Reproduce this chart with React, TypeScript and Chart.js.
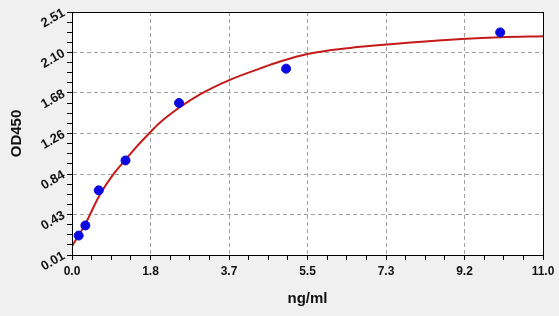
import React, { useEffect, useRef } from "react";
import { Chart, registerables } from "chart.js";

Chart.register(...registerables);

// Measured standards (ng/ml vs OD450)
const pointX = [0.156, 0.312, 0.625, 1.25, 2.5, 5, 10];
const pointY = [0.21, 0.314, 0.675, 0.983, 1.574, 1.927, 2.3];

// Fitted curve
const curveX = [0, 0.3, 0.65, 1.0, 1.25, 1.5, 1.8, 2.05, 2.5, 3.0, 3.66, 4.4, 4.86, 5.5, 6.5, 7.2, 8.0, 9.1, 10, 11];
const curveY = [0.1, 0.32, 0.63, 0.86, 0.99, 1.12, 1.26, 1.37, 1.525, 1.665, 1.807, 1.93, 2.0, 2.078, 2.14, 2.17, 2.2, 2.232, 2.25, 2.26];

// Axis tick labels
const xTickLabels = ["0.0", "1.8", "3.7", "5.5", "7.3", "9.2", "11.0"];
const yTickLabels = ["0.01", "0.43", "0.84", "1.26", "1.68", "2.10", "2.51"];

const X_MIN = 0, X_MAX = 11;
const Y_MIN = 0.01, Y_MAX = 2.51;
const MINOR = 4;

const FONT = "'Liberation Sans', Arial, sans-serif";

export default function App() {
  const ref = useRef<HTMLCanvasElement | null>(null);

  useEffect(() => {
    document.body.style.margin = "0";
    document.body.style.background = "#f0f0f0";
    const canvas = ref.current!;
    const n = xTickLabels.length - 1;

    const buildTicks = (min: number, max: number) => {
      const arr: { value: number }[] = [];
      const steps = n * MINOR;
      for (let i = 0; i <= steps; i++) arr.push({ value: min + ((max - min) * i) / steps });
      return arr;
    };

    const bgPlugin = {
      id: "bg",
      beforeDraw(chart: any) {
        const { ctx, chartArea } = chart;
        ctx.save();
        ctx.fillStyle = "#f0f0f0";
        ctx.fillRect(0, 0, chart.width, chart.height);
        ctx.fillStyle = "#ffffff";
        ctx.fillRect(chartArea.left, chartArea.top, chartArea.right - chartArea.left, chartArea.bottom - chartArea.top);
        ctx.restore();
      },
      afterDatasetsDraw(chart: any) {
        const { ctx, chartArea } = chart;
        ctx.save();
        ctx.strokeStyle = "#000";
        ctx.lineWidth = 1;
        ctx.strokeRect(
          Math.round(chartArea.left) + 0.5,
          Math.round(chartArea.top) + 0.5,
          Math.round(chartArea.right - chartArea.left),
          Math.round(chartArea.bottom - chartArea.top)
        );
        ctx.restore();
      },
    };

    const gridColor = (c: any) => {
      const idx = c.index;
      if (idx === undefined) return "rgba(0,0,0,0)";
      if (idx % MINOR !== 0) return "rgba(0,0,0,0)";
      if (idx === 0 || idx === n * MINOR) return "rgba(0,0,0,0)";
      return "#a0a0a0";
    };

    const chart = new Chart(canvas, {
      type: "scatter",
      data: {
        datasets: [
          {
            type: "line",
            label: "fit",
            data: curveX.map((x, i) => ({ x, y: curveY[i] })),
            borderColor: "#c41a1a",
            borderWidth: 2,
            pointRadius: 0,
            cubicInterpolationMode: "monotone",
            fill: false,
            order: 2,
          } as any,
          {
            label: "std",
            data: pointX.map((x, i) => ({ x, y: pointY[i] })),
            backgroundColor: "#0a0ae0",
            borderColor: "#0a0ae0",
            pointRadius: 4.5,
            order: 1,
          },
        ],
      },
      options: {
        animation: false,
        responsive: false,
        devicePixelRatio: 1,
        layout: { padding: { top: 12, right: 16, left: 0, bottom: 0 } },
        plugins: { legend: { display: false }, tooltip: { enabled: false } },
        scales: {
          x: {
            type: "linear",
            min: X_MIN,
            max: X_MAX,
            afterBuildTicks: (s: any) => {
              s.ticks = buildTicks(X_MIN, X_MAX);
            },
            afterFit: (s: any) => {
              s.height = 61;
            },
            ticks: {
              autoSkip: false,
              maxRotation: 0,
              minRotation: 0,
              padding: 4,
              color: "#111",
              font: { family: FONT, size: 12, weight: "bold" },
              callback: (_v: any, i: number) => (i % MINOR === 0 ? xTickLabels[i / MINOR] : ""),
            },
            grid: {
              color: gridColor,
              tickColor: "#000",
              tickLength: 5,
              lineWidth: 1,
            },
            border: { display: true, color: "#000", width: 1, dash: [4, 3] },
            title: {
              display: true,
              text: "ng/ml",
              color: "#111",
              font: { family: FONT, size: 15, weight: "bold" },
              padding: { top: 0, bottom: 8 },
            },
          },
          y: {
            type: "linear",
            min: Y_MIN,
            max: Y_MAX,
            afterBuildTicks: (s: any) => {
              s.ticks = buildTicks(Y_MIN, Y_MAX);
            },
            afterFit: (s: any) => {
              s.width = 72;
            },
            ticks: {
              autoSkip: false,
              minRotation: 30,
              maxRotation: 30,
              padding: 3,
              color: "#111",
              font: { family: FONT, size: 13, weight: "bold" },
              callback: (_v: any, i: number) => (i % MINOR === 0 ? yTickLabels[i / MINOR] : ""),
            },
            grid: {
              color: gridColor,
              tickColor: "#000",
              tickLength: 5,
              lineWidth: 1,
            },
            border: { display: true, color: "#000", width: 1, dash: [4, 3] },
            title: {
              display: true,
              text: "OD450",
              color: "#111",
              font: { family: FONT, size: 15, weight: "bold" },
              padding: { top: 8, bottom: 0 },
            },
          },
        },
      },
      plugins: [bgPlugin],
    } as any);

    return () => chart.destroy();
  }, []);

  return (
    <div style={{ position: "absolute", left: 0, top: 0, width: 559, height: 316, background: "#f0f0f0" }}>
      <canvas ref={ref} width={559} height={316} style={{ display: "block", width: 559, height: 316 }} />
    </div>
  );
}
